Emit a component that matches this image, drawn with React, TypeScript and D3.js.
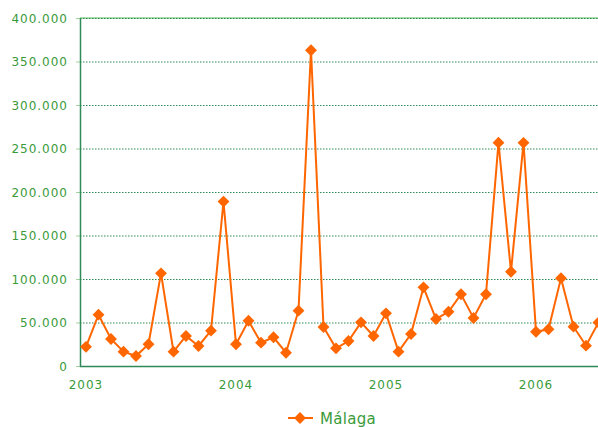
import React from "react";
import * as d3 from "d3";

const months: string[] = [
  "2003-01","2003-02","2003-03","2003-04","2003-05","2003-06","2003-07","2003-08","2003-09","2003-10","2003-11","2003-12",
  "2004-01","2004-02","2004-03","2004-04","2004-05","2004-06","2004-07","2004-08","2004-09","2004-10","2004-11","2004-12",
  "2005-01","2005-02","2005-03","2005-04","2005-05","2005-06","2005-07","2005-08","2005-09","2005-10","2005-11","2005-12",
  "2006-01","2006-02","2006-03","2006-04","2006-05","2006-06",
];
const malaga: number[] = [
  22000, 59000, 31000, 16500, 11500, 25000, 106500, 16500, 34500, 23000, 40600, 189000,
  25000, 52000, 26800, 33000, 15300, 63600, 363000, 44800, 20300, 28700, 50200, 34500,
  60500, 16500, 36800, 90400, 54000, 62400, 82400, 55200, 82400, 256700, 108400, 256500,
  39400, 42200, 101000, 45200, 23400, 50000,
];
const yTicks: number[] = [0, 50000, 100000, 150000, 200000, 250000, 300000, 350000, 400000];
const yearLabels: string[] = ["2003", "2004", "2005", "2006"];
const seriesName = "Málaga";

const W = 598, H = 427;
const green = "#3a9a3a";
const gridGreen = "#2e8b57";
const orange = "#ff6600";

export default function App() {
  const x = d3.scaleLinear().domain([0, months.length - 1]).range([86, 598.5]);
  const y = d3.scaleLinear().domain([0, 400000]).range([366, 18]);
  const fmt = (v: number) => (v === 0 ? "0" : d3.format(",")(v).replace(/,/g, "."));
  const line = d3.line<number>().x((_, i) => x(i)).y((d) => y(d));
  const diamond = d3.symbol().type(d3.symbolDiamond2).size(90)();
  const font = "'DejaVu Sans', Verdana, sans-serif";
  return (
    <svg width={W} height={H} style={{ position: "absolute", left: 0, top: 0, background: "#fff" }}>
      <line x1={80} x2={W} y1={y(400000)} y2={y(400000)} stroke="#8fd18f" strokeWidth={1.5} />
      {yTicks.filter((t) => t > 0).map((t) => (
        <line key={t} x1={80} x2={W} y1={y(t) + 0.5} y2={y(t) + 0.5} stroke={gridGreen} strokeWidth={1} strokeDasharray="1.5 1.5" />
      ))}
      {yTicks.map((t) => (
        <g key={"l" + t}>
          <line x1={76} x2={80} y1={y(t) + 0.5} y2={y(t) + 0.5} stroke="#9fd49f" strokeWidth={1} />
          <text x={68} y={y(t) + 4.5} textAnchor="end" fill={green} fontFamily={font} fontSize={12} letterSpacing={1}>
            {fmt(t)}
          </text>
        </g>
      ))}
      <line x1={80.5} x2={80.5} y1={y(400000)} y2={y(0) + 1} stroke={gridGreen} strokeWidth={1.5} />
      <line x1={80} x2={W} y1={y(0) + 0.5} y2={y(0) + 0.5} stroke={gridGreen} strokeWidth={1.5} />
      {yearLabels.map((lab, k) => (
        <text key={lab} x={x(k * 12)} y={389} textAnchor="middle" fill={green} fontFamily={font} fontSize={12} letterSpacing={1}>
          {lab}
        </text>
      ))}
      <path d={line(malaga) || ""} fill="none" stroke={orange} strokeWidth={2} />
      {malaga.map((v, i) => (
        <path key={i} d={diamond || ""} transform={`translate(${x(i)},${y(v)})`} fill={orange} />
      ))}
      <g>
        <line x1={288} x2={313} y1={418} y2={418} stroke={orange} strokeWidth={2} />
        <path d={diamond || ""} transform="translate(300,418)" fill={orange} />
        <text x={320} y={424} fill={green} fontFamily={font} fontSize={15} letterSpacing={0.3}>
          {seriesName}
        </text>
      </g>
    </svg>
  );
}
